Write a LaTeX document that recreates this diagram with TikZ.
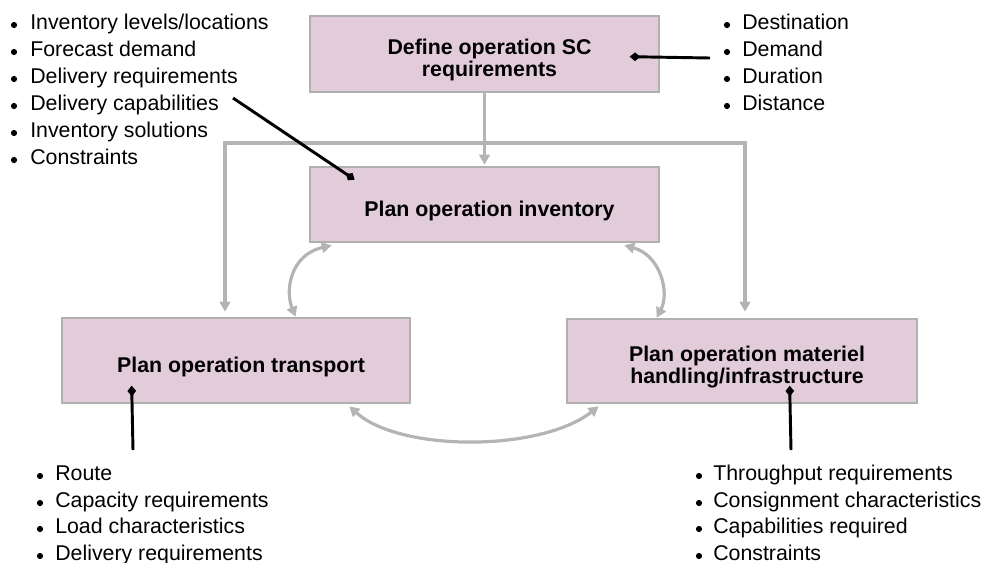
\documentclass[tikz,border=0pt]{standalone}
\usepackage{fontspec}
\setmainfont{Liberation Sans}
\usetikzlibrary{arrows.meta,calc}
\definecolor{boxfill}{HTML}{E3CCD9}
\definecolor{boxline}{HTML}{B0B0B0}
\definecolor{flowc}{HTML}{B4B4B4}
\tikzset{
  procbox/.style={draw=boxline, line width=2pt, fill=boxfill, inner sep=0pt, align=center,
     font=\fontsize{16}{16.5}\selectfont\bfseries},
  lt/.style={inner sep=0pt, font=\fontsize{16}{19}\selectfont},
  flow/.style={draw=flowc, line width=2.4pt},
  ftip/.style={-{Triangle[length=7.5pt,width=8pt]}},
  fboth/.style={{Triangle[length=7.5pt,width=8pt]}-{Triangle[length=7.5pt,width=8pt]}},
  blk/.style={draw=black, line width=2.2pt, -{Diamond[length=8pt,width=6.5pt]}},
}
\newcommand\bline[5]{\fill (#1,#3-4) circle[radius=3.1]; \node[lt,anchor=base west] (#4) at (#2,#3) {#5};}
\newcommand\boxtext[1]{\raisebox{-5.5pt}[\height][\depth]{\begin{tabular}{@{\hspace{7.5pt}}c@{}}#1\end{tabular}}}
\begin{document}
\begin{tikzpicture}[x=0.75pt,y=-0.75pt]
\useasboundingbox (0,0) rectangle (986,562);
% boxes
\node[procbox, minimum width=261.75pt, minimum height=57pt] (def) at (484.5,54) {\boxtext{Define operation SC\\requirements}};
\node[procbox, minimum width=261.75pt, minimum height=56.25pt] (inv) at (484.5,204.5) {\boxtext{Plan operation inventory}};
\node[procbox, minimum width=261pt, minimum height=63.75pt] (trans) at (236,360.5) {\boxtext{Plan operation transport}};
\node[procbox, minimum width=262.5pt, minimum height=63pt] (mat) at (742,361) {\boxtext{Plan operation materiel\\handling/infrastructure}};
% lists
\bline{14}{30}{29}{a1}{Inventory levels/locations}
\bline{14}{30}{56}{a2}{Forecast demand}
\bline{14}{30}{83}{a3}{Delivery requirements}
\bline{14}{30}{110}{a4}{Delivery capabilities}
\bline{14}{30}{137}{a5}{Inventory solutions}
\bline{14}{30}{164}{a6}{Constraints}
\bline{727}{742}{29}{b1}{Destination}
\bline{727}{742}{56}{b2}{Demand}
\bline{727}{742}{83}{b3}{Duration}
\bline{727}{742}{110}{b4}{Distance}
\bline{40}{55}{480}{c1}{Route}
\bline{40}{55}{507}{c2}{Capacity requirements}
\bline{40}{55}{533}{c3}{Load characteristics}
\bline{40}{55}{560}{c4}{Delivery requirements}
\bline{699}{713}{480}{d1}{Throughput requirements}
\bline{699}{713}{507}{d2}{Consignment characteristics}
\bline{699}{713}{533}{d3}{Capabilities required}
\bline{699}{713}{560}{d4}{Constraints}
% grey flows
\coordinate (fl) at (225,143);
\coordinate (fr) at (745,143);
\draw[flow,ftip] (def.south) -- ($(inv.north)+(0,-1)$);
\draw[flow,fboth] ($(trans.north -| fl)+(0,-5)$) -- (fl) -- (fr) -- ($(mat.north -| fr)+(0,-6)$);
\draw[flow,fboth] ($(inv.south west)+(23,2)$) .. controls (290,255) and (285,291) .. ($(trans.north west)+(235,0)$);
\draw[flow,fboth] ($(inv.south east)+(-36,2)$) .. controls (660,255) and (670,292) .. ($(mat.north west)+(91,0)$);
\draw[flow,fboth] ($(trans.south east)+(-62,2)$) .. controls (400,452) and (540,452) .. ($(mat.south west)+(33,2)$);
% black connectors
\coordinate (bfree) at (710,58);
\coordinate (afree) at (233,98);
\coordinate (cfree) at (133,450);
\coordinate (dfree) at (791,450);
\draw[blk] (bfree) -- ($(def.north west)+(321,42)$);
\draw[blk] (afree) -- ($(inv.north west)+(46,14)$);
\draw[blk] (cfree) -- ($(trans.north west)+(71,69)$);
\draw[blk] (dfree) -- ($(mat.north west)+(224,68)$);
\end{tikzpicture}
\end{document}
